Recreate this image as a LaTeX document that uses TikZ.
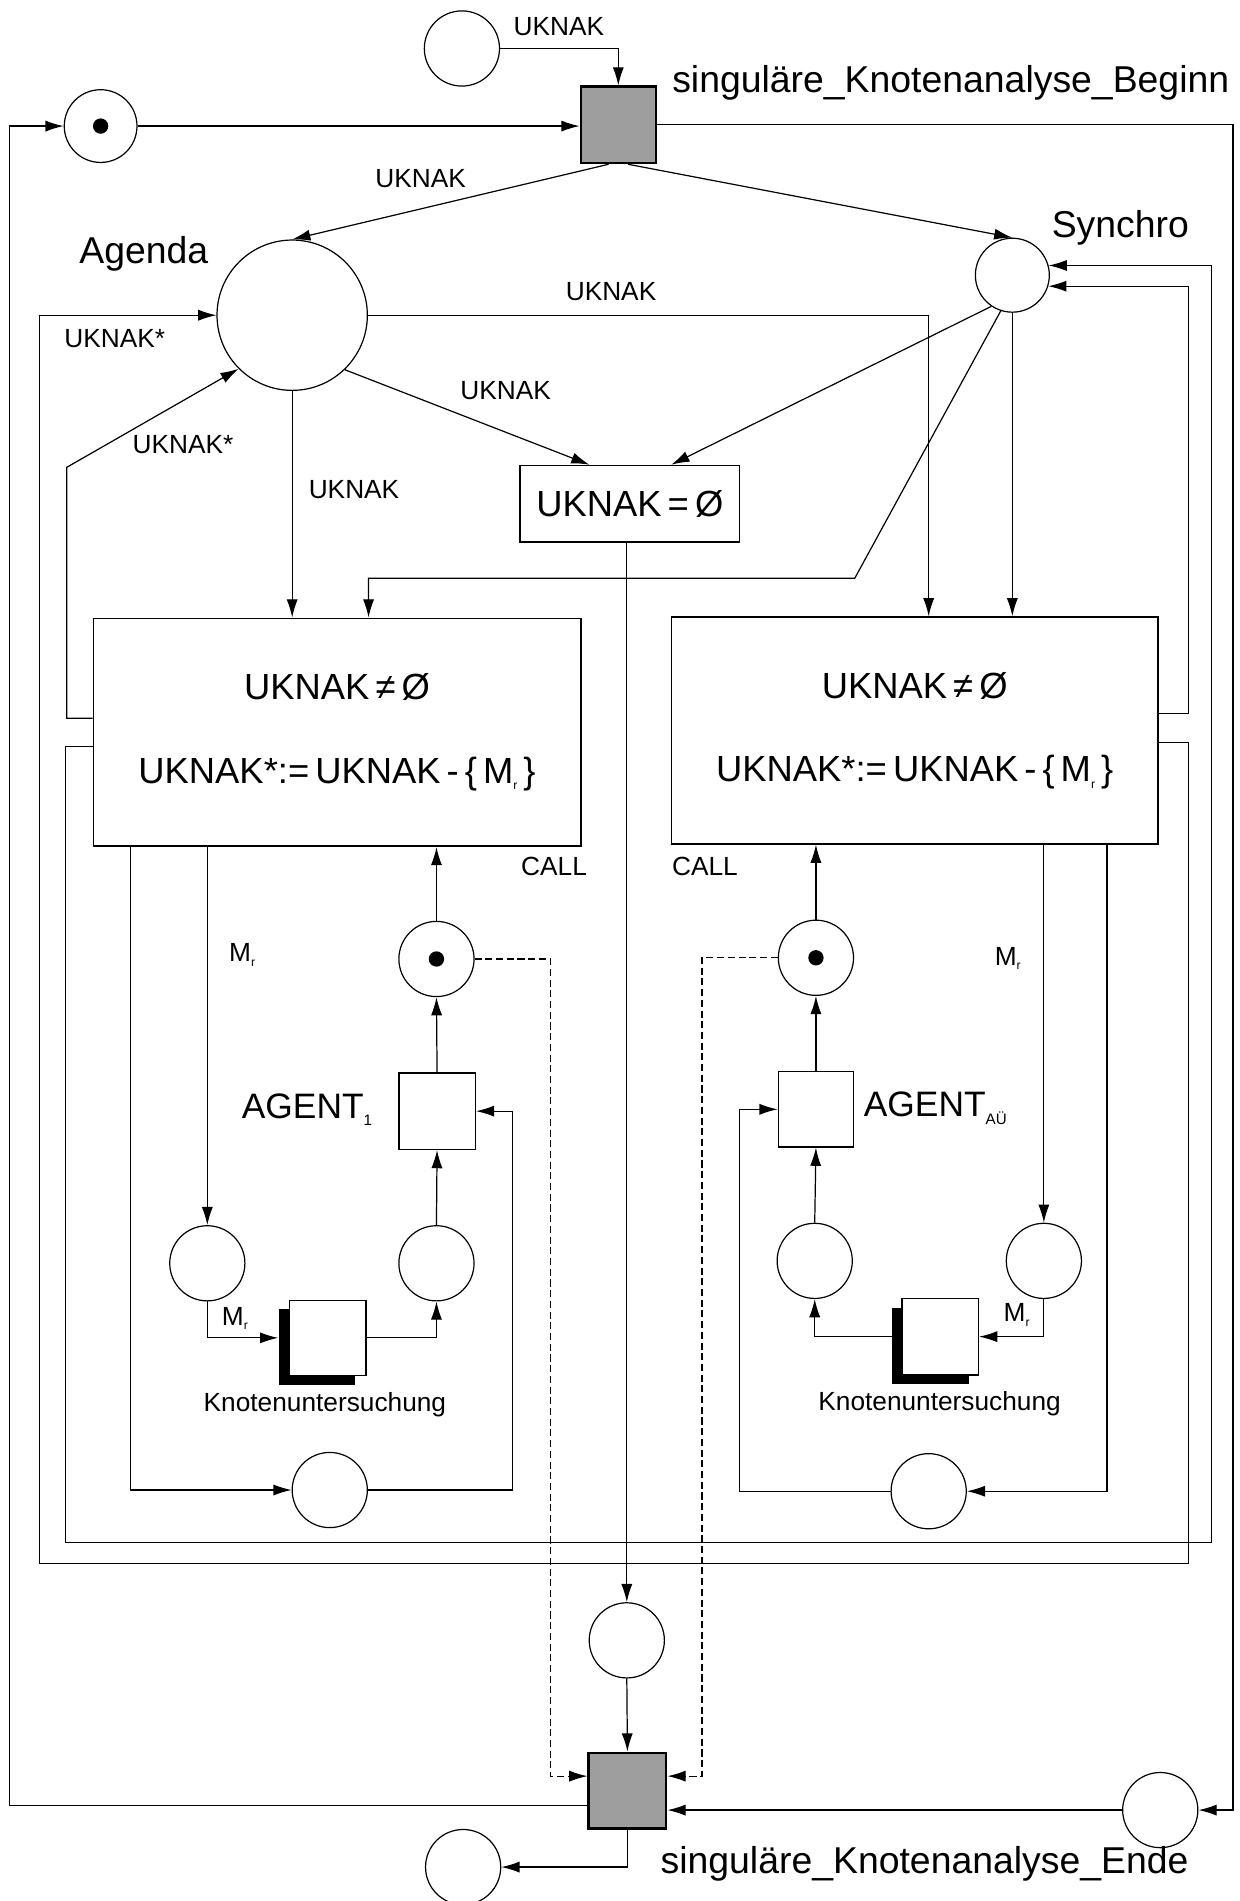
\documentclass[tikz,border=0pt]{standalone}
\usepackage{fontspec}
\setmainfont{Liberation Sans}
\usetikzlibrary{arrows.meta}
\newcommand{\Mr}{M\raisebox{-0.35ex}{\fontsize{6}{6}\selectfont r}}
\begin{document}
\begin{tikzpicture}[x=0.6pt,y=-0.6pt,
  line width=0.6pt,
  >={Latex[length=9pt,width=5.5pt]},
  pnplace/.style={circle,draw,line width=0.6pt,minimum size=37.2pt,inner sep=0pt},
  pntrans/.style={rectangle,draw,line width=0.7pt,minimum width=37.8pt,minimum height=37.8pt,inner sep=0pt,fill=white},
  shtrans/.style={pntrans,fill=black!38,line width=1.2pt},
  bigbox/.style={rectangle,draw,line width=0.8pt,inner sep=0pt,align=center,font=\fontsize{18}{41.2}\selectfont},
  shadowbox/.style={rectangle,fill=black,minimum width=37.8pt,minimum height=37.5pt,inner sep=0pt},
  pnarc/.style={->},
  dasharc/.style={->,dash pattern=on 3.5pt off 1.8pt},
  biglbl/.style={font=\fontsize{18.5}{20}\selectfont,inner sep=0pt},
  smalllbl/.style={font=\fontsize{13}{15}\selectfont,inner sep=0pt}
]
\useasboundingbox (0,0) rectangle (1022,1568);
\fill[white] (0,0) rectangle (1022,1568);

% places
\node[pnplace] (pTop) at (381,40) {};
\node[pnplace,minimum size=36pt] (pStart) at (83,104) {};
\node[pnplace,minimum size=74.4pt] (agenda) at (241,260) {};
\node[pnplace,minimum size=36.6pt] (synchro) at (835,227) {};
\node[pnplace] (pMid) at (517,1353) {};
\node[pnplace] (pEndR) at (957,1493) {};
\node[pnplace] (pEndL) at (382,1540) {};
\node[pnplace] (tokL) at (360,791) {};
\node[pnplace] (pL1) at (171,1042) {};
\node[pnplace] (pL2) at (360,1042) {};
\node[pnplace] (pL3) at (272,1229) {};
\node[pnplace] (tokR) at (673,790) {};
\node[pnplace] (pR1) at (672,1040) {};
\node[pnplace] (pR2) at (861,1040) {};
\node[pnplace] (pR3) at (766,1230) {};

% tokens
\fill (pStart.center) circle[radius=3.8pt];
\fill (tokL.center) circle[radius=3.8pt];
\fill (tokR.center) circle[radius=3.8pt];

% transitions
\node[shtrans,minimum width=37.2pt] (tBegin) at (510,103) {};
\node[shtrans,minimum width=38.4pt,minimum height=37.5pt] (tEnd) at (517.5,1477) {};
\node[bigbox,minimum width=108.6pt,minimum height=37.8pt] (tEmpty) at (519.5,415.5) {UKNAK\,=\,Ø};
\node[bigbox,minimum width=241.2pt,minimum height=112.8pt] (boxL) at (278,604)
  {UKNAK\,≠\,Ø\\UKNAK*:=\,UKNAK\,-\,\{\,\Mr\,\}};
\node[bigbox,minimum width=240.6pt,minimum height=112.2pt] (boxR) at (754.5,602.5)
  {UKNAK\,≠\,Ø\\UKNAK*:=\,UKNAK\,-\,\{\,\Mr\,\}};
\node[pntrans] (agentL) at (360.5,916.5) {};
\node[pntrans,minimum width=37.2pt,minimum height=37.2pt] (agentR) at (673,915) {};
\node[shadowbox] (knotLs) at (261.5,1111) {};
\node[pntrans,minimum height=37.2pt] (knotL) at (270.5,1103.5) {};
\node[shadowbox] (knotRs) at (767.5,1110) {};
\node[pntrans,minimum height=37.8pt] (knotR) at (775.5,1102.5) {};

% top part
\draw[pnarc] (pTop.east) -| (tBegin.north);
\draw[pnarc] (pStart.east) -- (pStart.east -| tBegin.west);
\draw[pnarc] (tBegin.east) -- (1017,103) |- (pEndR.east);
\draw[pnarc] (tEnd.west |- 0,1489) -- (8,1489) |- (pStart.west);
\draw[pnarc] ([xshift=-4.8pt]tBegin.south) -- (agenda.north);
\draw[pnarc] ([xshift=4.8pt]tBegin.south) -- (synchro.north);
\draw[pnarc] (agenda.east) -| (boxR.north -| 766,0);
\draw[pnarc] (agenda.-46) -- ([xshift=-20pt]tEmpty.north);
\draw[pnarc] (agenda.south) -- (agenda.south |- boxL.north);
\draw[pnarc] (synchro.236) -- ([xshift=20.5pt]tEmpty.north);
\draw[pnarc] (synchro.252) -- (705,477) -| (boxL.north -| 304,0);
\draw[pnarc] (synchro.south) -- (synchro.south |- boxR.north);
\draw[pnarc] (tEmpty.south -| pMid.north) -- (pMid.north);
\draw[pnarc] (pMid.south) -- (tEnd.north);
\draw[pnarc] (tEnd.south) |- (pEndL.east);
\draw[pnarc] (pEndR.west) -- (pEndR.west -| tEnd.east);

% loops between boxes, agenda and synchro
\draw[pnarc] (boxL.west |- 0,592.5) -- (55,592.5) -- (55,385.5) -- (agenda.225);
\draw[pnarc] (boxL.west |- 0,616) -- (54,616) -- (54,1272.6) -| (synchro.15 -| 999,0) -- (synchro.15);
\draw[pnarc] (boxR.east |- 0,588.4) -| (synchro.-17 -| 980,0) -- (synchro.-17);
\draw[pnarc] (boxR.east |- 0,612.6) -- (980,612.6) -- (980,1289.4) -- (32.6,1289.4) |- (agenda.west);

% left agent
\draw[pnarc] (tokL.north) -- (tokL.north |- boxL.south);
\draw[pnarc] (agentL.north) -- (tokL.south);
\draw[pnarc] (pL2.north) -- (agentL.south);
\draw[pnarc] (boxL.south -| pL1.north) -- (pL1.north);
\draw[pnarc] (pL1.south) |- (knotL.west -| knotLs.west);
\draw[pnarc] (knotL.east) -| (pL2.south);
\draw[pnarc] (boxL.south -| 107.6,0) |- (pL3.west);
\draw[pnarc] (pL3.east) -| (agentL.east -| 423,0) -- (agentL.east);
\draw[dasharc] (tokL.east) -| (454,1465) -- (tEnd.west |- 0,1465);

% right agent
\draw[pnarc] (tokR.north) -- (tokR.north |- boxR.south);
\draw[pnarc] (agentR.north) -- (tokR.south);
\draw[pnarc] (pR1.north) -- (agentR.south);
\draw[pnarc] (boxR.south -| pR2.north) -- (pR2.north);
\draw[pnarc] (pR2.south) |- (knotR.east);
\draw[pnarc] (knotRs.west |- knotR.west) -| (pR1.south);
\draw[pnarc] (boxR.south -| 913,0) |- (pR3.east);
\draw[pnarc] (pR3.west) -| (agentR.west -| 610,0) -- (agentR.west);
\draw[dasharc] (tokR.west) -| (579,1465) -- (tEnd.east |- 0,1465);

% labels
\node[smalllbl] (lTop) at (461,22) {UKNAK};
\node[biglbl,anchor=base west] (lBegin) at (554,76) {singuläre\_Knotenanalyse\_Beginn};
\node[biglbl,anchor=base west] (lEnde) at (544.4,1545) {singuläre\_Knotenanalyse\_Ende};
\node[smalllbl] (lA1) at (347,147) {UKNAK};
\node[biglbl,anchor=base west] (lAgenda) at (65,217) {Agenda};
\node[biglbl,anchor=base west] (lSynchro) at (867,195.8) {Synchro};
\node[smalllbl] (lA2) at (504,240.6) {UKNAK};
\node[smalllbl] (lA3) at (417,322) {UKNAK};
\node[smalllbl] (lA4) at (292,403.6) {UKNAK};
\node[smalllbl] (lS1) at (94.6,279) {UKNAK*};
\node[smalllbl] (lS2) at (151,367) {UKNAK*};
\node[smalllbl] (lC1) at (457,715) {CALL};
\node[smalllbl] (lC2) at (581.5,715) {CALL};
\node[smalllbl,anchor=base west] (lM1) at (188.5,793) {\Mr};
\node[smalllbl,anchor=base west] (lM2) at (820,796) {\Mr};
\node[smalllbl,anchor=base west] (lM3) at (182.6,1093) {\Mr};
\node[smalllbl,anchor=base west] (lM4) at (827.4,1090) {\Mr};
\node[inner sep=0pt,anchor=base west,font=\fontsize{17.5}{20}\selectfont] (lAg1) at (199,922.5)
  {AGENT\raisebox{-0.4ex}{\fontsize{7.5}{8}\selectfont 1}};
\node[inner sep=0pt,anchor=base west,font=\fontsize{17.5}{20}\selectfont] (lAg2) at (712,921)
  {AGENT\raisebox{-0.4ex}{\fontsize{7.5}{8}\selectfont AÜ}};
\node[smalllbl,anchor=base] (lK1) at (268,1164) {Knotenuntersuchung};
\node[smalllbl,anchor=base] (lK2) at (775,1163) {Knotenuntersuchung};
\end{tikzpicture}
\end{document}
